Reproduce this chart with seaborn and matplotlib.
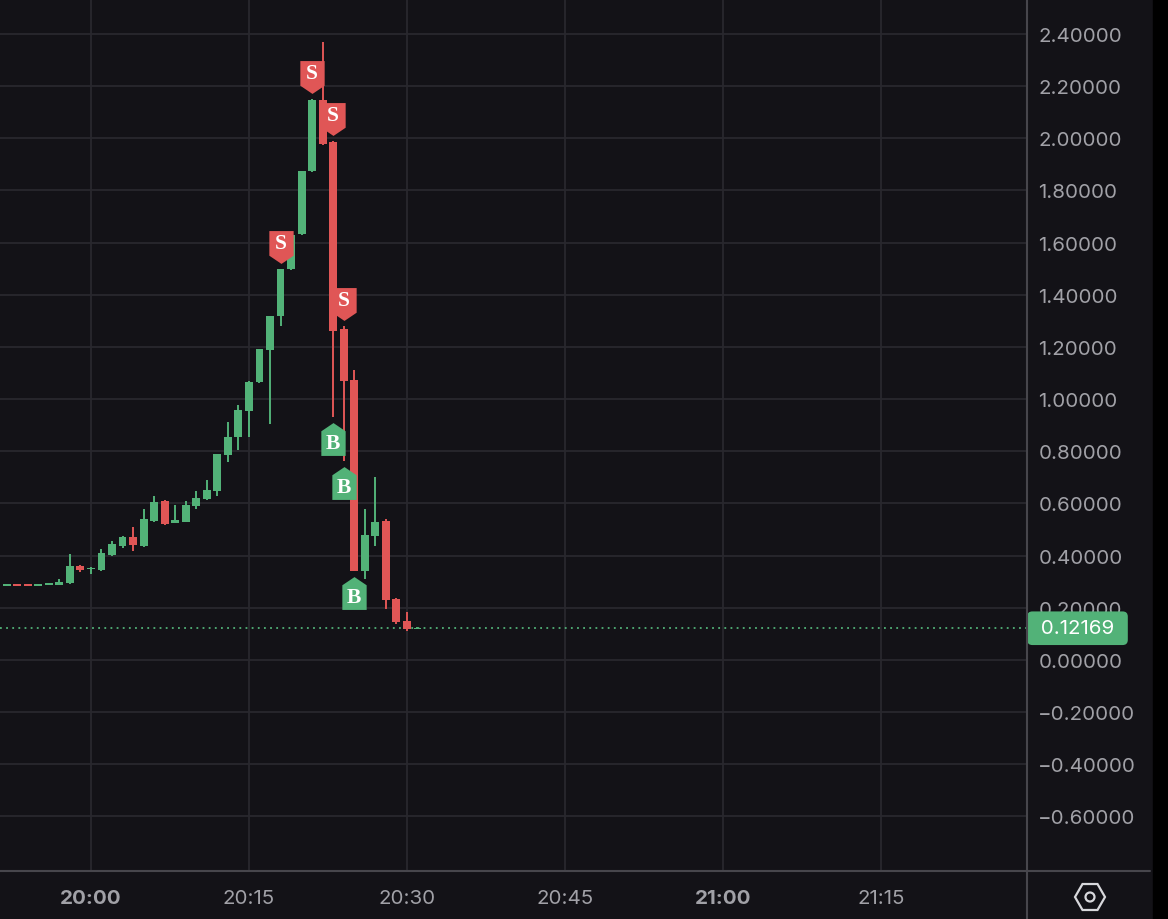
import numpy as np
import pandas as pd
import matplotlib
matplotlib.use("Agg")
import matplotlib.pyplot as plt
import matplotlib.dates as mdates
import matplotlib.transforms as mtransforms
from matplotlib.path import Path
from matplotlib.patches import RegularPolygon, Circle, Rectangle
import seaborn as sns

# 1-minute candles
times = ["19:52", "19:53", "19:54", "19:55", "19:56", "19:57", "19:58", "19:59",
         "20:00", "20:01", "20:02", "20:03", "20:04", "20:05", "20:06", "20:07",
         "20:08", "20:09", "20:10", "20:11", "20:12", "20:13", "20:14", "20:15",
         "20:16", "20:17", "20:18", "20:19", "20:20", "20:21", "20:22", "20:23",
         "20:24", "20:25", "20:26", "20:27", "20:28", "20:29", "20:30", "20:31"]
opens = [0.282, 0.290, 0.290, 0.282, 0.287, 0.289, 0.295, 0.362,
         0.347, 0.345, 0.404, 0.436, 0.470, 0.436, 0.534, 0.611,
         0.527, 0.530, 0.591, 0.617, 0.649, 0.786, 0.854, 0.956,
         1.065, 1.190, 1.318, 1.497, 1.632, 1.873, 2.145, 1.985,
         1.267, 1.075, 0.342, 0.477, 0.531, 0.234, 0.150, 0.1195]
highs = [0.290, 0.290, 0.290, 0.290, 0.294, 0.310, 0.406, 0.366,
         0.356, 0.426, 0.458, 0.477, 0.509, 0.577, 0.630, 0.615,
         0.594, 0.611, 0.647, 0.690, 0.790, 0.911, 0.978, 1.071,
         1.192, 1.320, 1.499, 1.630, 1.876, 2.150, 2.368, 1.990,
         1.280, 1.113, 0.579, 0.700, 0.541, 0.236, 0.185, 0.125]
lows = [0.282, 0.282, 0.282, 0.282, 0.287, 0.287, 0.293, 0.339,
        0.330, 0.343, 0.397, 0.430, 0.419, 0.432, 0.530, 0.517,
        0.525, 0.528, 0.577, 0.612, 0.630, 0.760, 0.806, 0.854,
        1.063, 0.905, 1.282, 1.495, 1.630, 1.870, 1.973, 0.930,
        0.764, 0.342, 0.310, 0.438, 0.195, 0.138, 0.112, 0.117]
closes = [0.290, 0.282, 0.282, 0.290, 0.294, 0.300, 0.362, 0.345,
          0.353, 0.410, 0.445, 0.473, 0.441, 0.541, 0.605, 0.521,
          0.536, 0.594, 0.620, 0.652, 0.790, 0.854, 0.959, 1.067,
          1.192, 1.320, 1.499, 1.630, 1.876, 2.145, 1.979, 1.263,
          1.071, 0.342, 0.479, 0.528, 0.231, 0.147, 0.118, 0.12169]

sell_times = ["20:18", "20:21", "20:23", "20:24"]
buy_times = ["20:23", "20:24", "20:25"]

last_price = 0.12169
x_ticks = ["20:00", "20:15", "20:30", "20:45", "21:00", "21:15"]
y_ticks = [-0.6, -0.4, -0.2, 0.0, 0.2, 0.4, 0.6, 0.8, 1.0, 1.2, 1.4, 1.6, 1.8, 2.0, 2.2, 2.4]

BG = "#131217"
GRID = "#29282e"
BORDER = "#47464c"
TXT = "#a1a1a7"
GREEN = "#52b278"
RED = "#e05656"
FS = 14.8

day = "2024-01-01 "

sns.set_theme(style="dark", rc={
    "axes.facecolor": BG, "figure.facecolor": BG, "axes.edgecolor": BG,
    "grid.color": GRID, "text.color": TXT,
    "xtick.color": TXT, "ytick.color": TXT,
})
plt.rcParams["font.family"] = ["Inter", "DejaVu Sans"]

df = pd.DataFrame({"time": times, "open": opens, "high": highs,
                   "low": lows, "close": closes})
df["x"] = mdates.date2num(pd.to_datetime(day + df["time"]))
df["up"] = df["close"] >= df["open"]
colors = np.where(df["up"], GREEN, RED)

fig = plt.figure(figsize=(11.68, 9.2), dpi=100)
ax = fig.add_axes([0, 48 / 920, 1027 / 1168, 872 / 920])

minute = 1 / 1440
ax.vlines(df["x"], df["low"], df["high"], colors=colors, linewidth=1.4, zorder=3)
ax.bar(df["x"], (df["close"] - df["open"]).abs(),
       bottom=df[["open", "close"]].min(axis=1),
       width=0.75 * minute, color=colors, linewidth=0, zorder=3)

ax.axhline(last_price, color=GREEN, linestyle=(0, (1, 2.4)), linewidth=1.3, zorder=2)

# signal flags (S above the high, B below the low)
hw = 0.37
sell_path = Path([(-hw, 0.5), (hw, 0.5), (hw, -0.25), (0, -0.5), (-hw, -0.25), (-hw, 0.5)],
                 [1, 2, 2, 2, 2, 79])
buy_path = Path([(-hw, -0.5), (hw, -0.5), (hw, 0.25), (0, 0.5), (-hw, 0.25), (-hw, -0.5)],
                [1, 2, 2, 2, 2, 79])

sells = df[df["time"].isin(sell_times)]
buys = df[df["time"].isin(buy_times)]
gap = 22
up_tr = mtransforms.offset_copy(ax.transData, fig=fig, x=0, y=gap, units="dots")
dn_tr = mtransforms.offset_copy(ax.transData, fig=fig, x=0, y=-gap, units="dots")

sns.scatterplot(x=sells["x"].values, y=sells["high"].values, marker=sell_path, s=560,
                color=RED, linewidth=0, transform=up_tr, zorder=5, legend=False, ax=ax)
sns.scatterplot(x=buys["x"].values, y=buys["low"].values, marker=buy_path, s=560,
                color=GREEN, linewidth=0, transform=dn_tr, zorder=5, legend=False, ax=ax)

for xv, yv in zip(sells["x"], sells["high"]):
    ax.annotate("S", xy=(xv, yv), xytext=(0, gap + 4), textcoords="offset pixels",
                ha="center", va="center", color="white", fontsize=15.5,
                fontweight="bold", family="Liberation Serif", zorder=6)
for xv, yv in zip(buys["x"], buys["low"]):
    ax.annotate("B", xy=(xv, yv), xytext=(0, -gap - 4), textcoords="offset pixels",
                ha="center", va="center", color="white", fontsize=15.5,
                fontweight="bold", family="Liberation Serif", zorder=6)

ax.set_xlim(mdates.date2num(pd.Timestamp(day + "19:51:22")),
            mdates.date2num(pd.Timestamp(day + "21:28:52")))
ax.set_ylim(-0.809, 2.534)

ax.set_yticks(y_ticks)
ax.set_yticklabels([f"{v:.5f}".replace("-", "\u2212") for v in y_ticks])
ax.set_xticks(mdates.date2num(pd.to_datetime([day + t for t in x_ticks])))
ax.set_xticklabels(x_ticks)
for lab in ax.get_xticklabels():
    if lab.get_text().endswith(":00"):
        lab.set_fontweight("bold")

ax.yaxis.tick_right()
ax.tick_params(axis="y", length=0, pad=8.2, labelsize=FS, colors=TXT)
ax.tick_params(axis="x", length=0, pad=13, labelsize=FS, colors=TXT)
ax.grid(True, color=GRID, linewidth=1.3)
ax.set_axisbelow(True)
for s in ax.spines.values():
    s.set_visible(False)
ax.set_xlabel("")
ax.set_ylabel("")

ax.annotate(" " + f"{last_price:.5f}" + " ", xy=(1, last_price),
            xycoords=("axes fraction", "data"), xytext=(8, 0),
            textcoords="offset pixels", ha="left", va="center",
            color="white", fontsize=FS, annotation_clip=False, zorder=10,
            bbox=dict(boxstyle="round,pad=0.38,rounding_size=0.25", fc=GREEN, ec="none"))

# frame lines, right strip and settings icon
ov = fig.add_axes([0, 0, 1, 1])
ov.set_xlim(0, 1168)
ov.set_ylim(920, 0)
ov.axis("off")
ov.patch.set_alpha(0)
ov.plot([1027, 1027], [0, 920], color=BORDER, linewidth=1.5)
ov.plot([0, 1150], [872, 872], color=BORDER, linewidth=1.5)
ov.add_patch(Rectangle((1153, 0), 15, 920, color="black"))
ov.add_patch(RegularPolygon((1090, 898), numVertices=6, radius=15, orientation=np.pi / 6,
                            fill=False, ec="#d8d8dc", linewidth=1.6))
ov.add_patch(Circle((1090, 898), 4.5, fill=False, ec="#d8d8dc", linewidth=1.6))

fig.savefig("out.png", dpi=100, facecolor=BG)
